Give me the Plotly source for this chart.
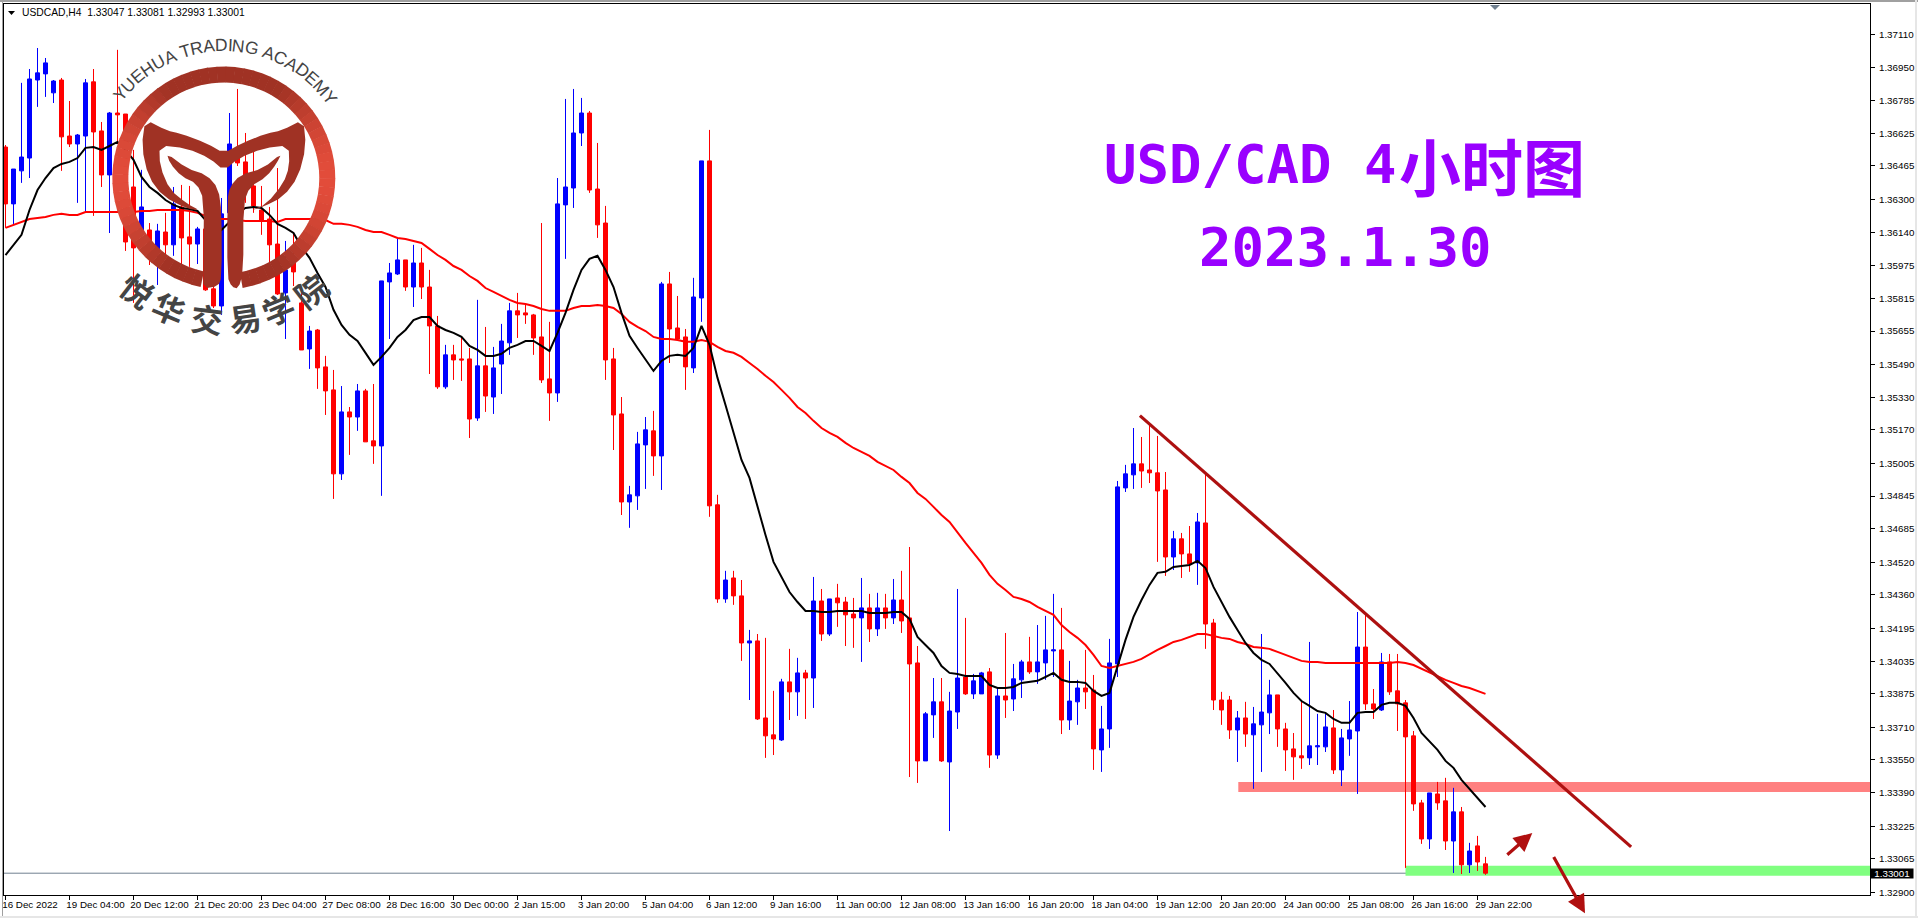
import math
import plotly.graph_objects as go

OPEN = [1.36565,1.36286,1.36448,1.36511,1.36894,1.36924,1.36831,1.36894,1.36619,1.36580,
1.36619,1.36885,1.36644,1.36428,1.36732,1.36727,1.36369,1.36158,1.36158,1.36065,
1.36148,1.36085,1.36271,1.36124,1.36089,1.36163,1.35869,1.35785,1.36242,1.36516,
1.36492,1.36374,1.36256,1.36212,1.36089,1.35849,1.36011,1.35800,1.35574,1.35667,
1.35486,1.35373,1.34961,1.35265,1.35240,1.35368,1.35123,1.35098,1.35903,1.35942,
1.36011,1.35878,1.35996,1.35878,1.35687,1.35388,1.35545,1.35525,1.35525,1.35235,
1.35491,1.35338,1.35500,1.35604,1.35761,1.35751,1.35741,1.35633,1.35427,1.35358,
1.36281,1.36364,1.36634,1.36732,1.36359,1.36192,1.35525,1.35255,1.34823,1.34853,
1.35103,1.35172,1.35049,1.35893,1.35677,1.35633,1.35481,1.35824,1.36497,1.34809,
1.34347,1.34450,1.34362,1.34131,1.34141,1.33763,1.33680,1.33655,1.33940,1.33891,
1.33984,1.33959,1.34337,1.34175,1.34352,1.34332,1.34273,1.34254,1.34303,1.34200,
1.34303,1.34254,1.34342,1.34254,1.34033,1.33552,1.33778,1.33842,1.33547,1.33792,
1.33964,1.33881,1.33881,1.33989,1.33581,1.33871,1.33856,1.33950,1.34038,1.33989,
1.34033,1.34092,1.34097,1.33753,1.33842,1.33910,1.33900,1.33606,1.33709,1.34028,
1.34892,1.34956,1.35010,1.34980,1.34966,1.34882,1.34553,1.34642,1.34568,1.34524,
1.34720,1.34229,1.33851,1.33851,1.33704,1.33763,1.33680,1.33729,1.33788,1.33876,
1.33709,1.33611,1.33577,1.33567,1.33621,1.33621,1.33714,1.33508,1.33660,1.33699,
1.34111,1.33832,1.33802,1.34038,1.33896,1.33837,1.33675,1.33346,1.33169,1.33390,
1.33356,1.33159,1.33302,1.33042,1.33135,1.33047]

HIGH = [1.36575,1.36457,1.36880,1.36948,1.37051,1.37002,1.36894,1.36904,1.36791,1.36629,
1.36899,1.36948,1.36688,1.36737,1.37042,1.36727,1.36551,1.36453,1.36192,1.36188,
1.36242,1.36369,1.36379,1.36374,1.36173,1.36242,1.35977,1.36315,1.36732,1.36850,
1.36634,1.36551,1.36374,1.36271,1.36462,1.36104,1.36143,1.35849,1.35687,1.35672,
1.35540,1.35471,1.35392,1.35289,1.35402,1.35378,1.35402,1.35908,1.35996,1.36119,
1.36011,1.36085,1.36070,1.35962,1.35736,1.35594,1.35594,1.35633,1.35579,1.35815,
1.35682,1.35584,1.35697,1.35800,1.35849,1.35790,1.35746,1.36192,1.35707,1.36413,
1.36801,1.36850,1.36806,1.36742,1.36585,1.36276,1.35579,1.35338,1.34902,1.35167,
1.35240,1.35270,1.35903,1.35952,1.35834,1.35672,1.35923,1.36497,1.36649,1.34858,
1.34485,1.34485,1.34440,1.34195,1.34175,1.34156,1.33896,1.33955,1.34102,1.34058,
1.33999,1.34455,1.34396,1.34347,1.34421,1.34357,1.34352,1.34450,1.34372,1.34377,
1.34372,1.34445,1.34485,1.34602,1.34116,1.33792,1.33959,1.33959,1.33891,1.34396,
1.34254,1.33979,1.33989,1.34008,1.33910,1.34180,1.34028,1.34048,1.34161,1.34219,
1.34264,1.34372,1.34303,1.34043,1.33950,1.34097,1.33974,1.33822,1.34151,1.34926,
1.35005,1.35186,1.35142,1.35201,1.35147,1.34970,1.34681,1.34671,1.34705,1.34769,
1.34961,1.34249,1.33891,1.33871,1.33797,1.33842,1.33817,1.34175,1.33950,1.33876,
1.33739,1.33689,1.33846,1.34136,1.33783,1.33792,1.33802,1.33709,1.33846,1.34283,
1.34269,1.33905,1.34082,1.34077,1.34077,1.33851,1.33699,1.33361,1.33395,1.33449,
1.33469,1.33420,1.33326,1.33150,1.33184,1.33081]

LOW = [1.36168,1.36183,1.36389,1.36413,1.36762,1.36811,1.36781,1.36448,1.36565,1.36291,
1.36246,1.36227,1.36369,1.36143,1.36585,1.36055,1.35800,1.36109,1.35986,1.35888,
1.36035,1.36031,1.35986,1.35977,1.35991,1.35859,1.35775,1.35741,1.36109,1.36472,
1.36291,1.36242,1.36134,1.35996,1.35839,1.35623,1.35883,1.35569,1.35476,1.35378,
1.35250,1.34838,1.34931,1.35054,1.35172,1.35118,1.35010,1.34853,1.35623,1.35937,
1.35859,1.35780,1.35819,1.35451,1.35378,1.35378,1.35422,1.35417,1.35137,1.35221,
1.35265,1.35255,1.35353,1.35545,1.35628,1.35697,1.35545,1.35407,1.35221,1.35314,
1.36016,1.36266,1.36570,1.36340,1.36119,1.35422,1.35078,1.34759,1.34696,1.34784,
1.34887,1.34951,1.34882,1.35505,1.35618,1.35373,1.35456,1.35707,1.34750,1.34328,
1.34328,1.34318,1.34043,1.33851,1.33753,1.33567,1.33581,1.33650,1.33753,1.33773,
1.33758,1.33812,1.34141,1.34165,1.34210,1.34116,1.34107,1.34038,1.34136,1.34165,
1.34200,1.34224,1.34180,1.33473,1.33444,1.33552,1.33665,1.33547,1.33208,1.33709,
1.33876,1.33856,1.33881,1.33518,1.33562,1.33763,1.33797,1.33861,1.33979,1.33930,
1.33950,1.33964,1.33684,1.33704,1.33729,1.33807,1.33508,1.33498,1.33616,1.33964,
1.34872,1.34887,1.34892,1.34916,1.34529,1.34460,1.34489,1.34450,1.34480,1.34416,
1.34102,1.33802,1.33729,1.33660,1.33547,1.33621,1.33415,1.33498,1.33684,1.33621,
1.33503,1.33459,1.33513,1.33532,1.33532,1.33596,1.33488,1.33429,1.33577,1.33390,
1.33802,1.33758,1.33797,1.33876,1.33699,1.33027,1.33307,1.33145,1.33120,1.33312,
1.33115,1.33002,1.32997,1.33002,1.33012,1.32993]

CLOSE = [1.36286,1.36457,1.36516,1.36899,1.36929,1.36978,1.36889,1.36615,1.36580,1.36624,
1.36880,1.36639,1.36428,1.36732,1.36723,1.36099,1.36070,1.36271,1.36026,1.36153,
1.36085,1.36286,1.36119,1.36089,1.36163,1.35864,1.35785,1.36237,1.36580,1.36487,
1.36369,1.36276,1.36207,1.36085,1.35844,1.35962,1.35952,1.35569,1.35662,1.35481,
1.35368,1.34961,1.35265,1.35240,1.35368,1.35118,1.35098,1.35908,1.35947,1.36011,
1.35878,1.35996,1.35878,1.35687,1.35388,1.35545,1.35520,1.35520,1.35230,1.35491,
1.35343,1.35481,1.35613,1.35761,1.35741,1.35741,1.35628,1.35422,1.35358,1.36286,
1.36369,1.36634,1.36732,1.36354,1.36183,1.35520,1.35250,1.34823,1.34858,1.35108,
1.35177,1.35049,1.35893,1.35672,1.35623,1.35486,1.35829,1.36497,1.34804,1.34347,
1.34440,1.34362,1.34131,1.34141,1.33758,1.33675,1.33660,1.33940,1.33891,1.33984,
1.33959,1.34337,1.34175,1.34347,1.34328,1.34269,1.34254,1.34303,1.34200,1.34303,
1.34254,1.34342,1.34239,1.34028,1.33552,1.33783,1.33842,1.33552,1.33797,1.33959,
1.33881,1.33945,1.33984,1.33581,1.33871,1.33851,1.33955,1.34038,1.33989,1.34038,
1.34097,1.34097,1.33753,1.33846,1.33910,1.33891,1.33611,1.33709,1.34033,1.34897,
1.34961,1.35010,1.34975,1.34966,1.34877,1.34553,1.34642,1.34568,1.34519,1.34725,
1.34224,1.33851,1.33802,1.33704,1.33763,1.33684,1.33734,1.33792,1.33876,1.33709,
1.33606,1.33572,1.33567,1.33626,1.33626,1.33719,1.33508,1.33665,1.33704,1.34111,
1.33832,1.33807,1.34038,1.33891,1.33832,1.33670,1.33341,1.33169,1.33395,1.33346,
1.33159,1.33302,1.33042,1.33110,1.33056,1.33001]

MA_FAST = [1.36035,1.36085,1.36134,1.36256,1.36354,1.36413,1.36462,1.36482,1.36492,1.36511,
1.36561,1.36565,1.36551,1.36570,1.36590,1.36551,1.36502,1.36418,1.36369,1.36340,
1.36305,1.36281,1.36266,1.36261,1.36251,1.36207,1.36134,1.36158,1.36197,1.36242,
1.36266,1.36271,1.36266,1.36232,1.36188,1.36168,1.36143,1.36075,1.36021,1.35947,
1.35878,1.35766,1.35692,1.35643,1.35613,1.35555,1.35496,1.35535,1.35579,1.35633,
1.35667,1.35716,1.35731,1.35731,1.35687,1.35667,1.35653,1.35633,1.35589,1.35569,
1.35540,1.35540,1.35550,1.35579,1.35594,1.35613,1.35613,1.35589,1.35564,1.35653,
1.35751,1.35864,1.35962,1.36016,1.36031,1.35962,1.35878,1.35751,1.35638,1.35579,
1.35520,1.35466,1.35515,1.35540,1.35545,1.35540,1.35579,1.35687,1.35594,1.35432,
1.35299,1.35162,1.35029,1.34941,1.34799,1.34661,1.34529,1.34455,1.34381,1.34332,
1.34288,1.34288,1.34283,1.34283,1.34288,1.34288,1.34288,1.34288,1.34278,1.34278,
1.34278,1.34283,1.34283,1.34249,1.34161,1.34121,1.34082,1.34018,1.33984,1.33979,
1.33969,1.33969,1.33969,1.33925,1.33910,1.33910,1.33915,1.33935,1.33940,1.33945,
1.33964,1.33984,1.33950,1.33940,1.33940,1.33935,1.33896,1.33871,1.33886,1.34013,
1.34146,1.34259,1.34342,1.34416,1.34475,1.34480,1.34504,1.34509,1.34514,1.34534,
1.34499,1.34406,1.34332,1.34259,1.34195,1.34131,1.34082,1.34048,1.34028,1.33984,
1.33935,1.33886,1.33846,1.33822,1.33797,1.33788,1.33758,1.33739,1.33739,1.33788,
1.33792,1.33792,1.33827,1.33837,1.33837,1.33822,1.33763,1.33689,1.33645,1.33606,
1.33552,1.33518,1.33459,1.33415,1.33370,1.33326]

MA_SLOW = [1.36168,1.36183,1.36197,1.36212,1.36217,1.36222,1.36232,1.36237,1.36232,1.36232,
1.36246,1.36246,1.36246,1.36246,1.36246,1.36246,1.36246,1.36251,1.36251,1.36256,
1.36256,1.36256,1.36256,1.36251,1.36242,1.36227,1.36217,1.36212,1.36212,1.36207,
1.36202,1.36202,1.36202,1.36202,1.36197,1.36212,1.36212,1.36212,1.36212,1.36212,
1.36207,1.36188,1.36188,1.36183,1.36173,1.36158,1.36148,1.36148,1.36134,1.36119,
1.36114,1.36104,1.36094,1.36065,1.36035,1.36011,1.35981,1.35962,1.35932,1.35908,
1.35873,1.35854,1.35834,1.35815,1.35800,1.35795,1.35785,1.35770,1.35761,1.35761,
1.35761,1.35775,1.35785,1.35785,1.35790,1.35785,1.35775,1.35746,1.35707,1.35682,
1.35662,1.35633,1.35623,1.35623,1.35618,1.35609,1.35609,1.35618,1.35609,1.35584,
1.35564,1.35555,1.35535,1.35505,1.35476,1.35442,1.35412,1.35373,1.35334,1.35289,
1.35260,1.35221,1.35186,1.35162,1.35142,1.35113,1.35088,1.35069,1.35049,1.35020,
1.35000,1.34980,1.34946,1.34916,1.34867,1.34838,1.34799,1.34759,1.34725,1.34671,
1.34622,1.34573,1.34524,1.34465,1.34421,1.34391,1.34357,1.34347,1.34332,1.34308,
1.34288,1.34269,1.34219,1.34185,1.34156,1.34121,1.34072,1.34018,1.34008,1.34018,
1.34028,1.34038,1.34053,1.34077,1.34097,1.34116,1.34136,1.34146,1.34161,1.34175,
1.34175,1.34165,1.34156,1.34151,1.34136,1.34126,1.34111,1.34107,1.34102,1.34087,
1.34072,1.34058,1.34043,1.34038,1.34038,1.34033,1.34033,1.34033,1.34033,1.34033,
1.34033,1.34033,1.34033,1.34033,1.34038,1.34033,1.34023,1.34004,1.33989,1.33969,
1.33950,1.33935,1.33920,1.33910,1.33896,1.33881]

Y_TICKS = ["1.37110","1.36950","1.36785","1.36625","1.36465","1.36300","1.36140","1.35975","1.35815",
           "1.35655","1.35490","1.35330","1.35170","1.35005","1.34845","1.34685","1.34520","1.34360",
           "1.34195","1.34035","1.33875","1.33710","1.33550","1.33390","1.33225","1.33065","1.32900"]
X_TICKS = ["16 Dec 2022","19 Dec 04:00","20 Dec 12:00","21 Dec 20:00","23 Dec 04:00","27 Dec 08:00",
           "28 Dec 16:00","30 Dec 00:00","2 Jan 15:00","3 Jan 20:00","5 Jan 04:00","6 Jan 12:00",
           "9 Jan 16:00","11 Jan 00:00","12 Jan 08:00","13 Jan 16:00","16 Jan 20:00","18 Jan 04:00",
           "19 Jan 12:00","20 Jan 20:00","24 Jan 00:00","25 Jan 08:00","26 Jan 16:00","29 Jan 22:00"]
TICK_STEP = 8
HEADER = "USDCAD,H4\u00a0\u00a01.33047 1.33081 1.32993 1.33001"
LAST = 1.33001
TITLE_1 = "USD/CAD 4"
TITLE_1B = "小时图"
TITLE_2 = "2023.1.30"
LOGO_EN = "YUEHUA TRADING ACADEMY"
LOGO_CN = "悦华交易学院"

W, H = 1918, 918
L, R, T, B = 4, 48, 4, 23
PW, PH = W - L - R, H - T - B
XRANGE = [-0.1875, 233.0625]
YRANGE = [1.32894, 1.37267]
FONT = "Liberation Sans"
def px(x): return (x - L) / PW
def py(y): return 1 - (y - T) / PH

bars = list(range(len(OPEN)))
fig = go.Figure()
fig.add_trace(go.Candlestick(
    x=bars, open=OPEN, high=HIGH, low=LOW, close=CLOSE, whiskerwidth=0, showlegend=False,
    increasing=dict(line=dict(color="#0000ff", width=1), fillcolor="#0000ff"),
    decreasing=dict(line=dict(color="#ff0000", width=1), fillcolor="#ff0000")))
fig.add_trace(go.Scatter(x=bars, y=MA_SLOW, mode="lines", line=dict(color="#ff0000", width=2), showlegend=False))
fig.add_trace(go.Scatter(x=bars, y=MA_FAST, mode="lines", line=dict(color="#000000", width=2), showlegend=False, xaxis="x2"))

shapes = []
shapes.append(dict(type="rect", xref="x", yref="y", x0=154.1, x1=XRANGE[1], y0=1.33400, y1=1.33449,
                   fillcolor="#ff8080", line_width=0, layer="below"))
shapes.append(dict(type="rect", xref="x", yref="y", x0=175, x1=XRANGE[1], y0=1.32989, y1=1.33037,
                   fillcolor="#80ff80", line_width=0, layer="below"))
shapes.append(dict(type="line", xref="paper", yref="y", x0=0, x1=1, y0=LAST, y1=LAST,
                   line=dict(color="#708090", width=1), layer="below"))
shapes.append(dict(type="line", xref="x", yref="y", x0=141.8, y0=1.35247, x1=203.2, y1=1.33130,
                   line=dict(color="#ad1010", width=3.2), layer="above"))

def prect(x0, y0, x1, y1, color):
    shapes.append(dict(type="rect", xref="paper", yref="paper", x0=px(x0), x1=px(x1), y0=py(y0), y1=py(y1),
                       fillcolor=color, line_width=0, layer="above"))
prect(0, 0, W, 2, "#a0a0a0")
prect(2, 0, 3, 917, "#a0a0a0")
prect(0, 916, W, 918, "#e6e6e6")
prect(1915, 0, 1917, 918, "#e6e6e6")

def poly(points, color, closed=True):
    d = "M " + " L ".join(f"{px(x):.6f},{py(y):.6f}" for x, y in points) + (" Z" if closed else "")
    shapes.append(dict(type="path", xref="paper", yref="paper", path=d, fillcolor=color, line_width=0, layer="above"))
poly([(1490, 5), (1500, 5), (1495, 10)], "#708090")
poly([(8, 11), (15, 11), (11.5, 15)], "#000000")

def chaikin(points, n=2):
    for _ in range(n):
        out = []
        m = len(points)
        for i in range(m):
            a, b = points[i], points[(i + 1) % m]
            out.append((a[0] * .75 + b[0] * .25, a[1] * .75 + b[1] * .25))
            out.append((a[0] * .25 + b[0] * .75, a[1] * .25 + b[1] * .75))
        points = out
    return points
CX, CY, RO, RI = 223.8, 178, 111.5, 95.5
def lerp_col(t):
    a, b = (160, 50, 36), (226, 76, 58)
    return "rgb(%d,%d,%d)" % tuple(round(a[i] + (b[i] - a[i]) * t) for i in range(3))
N = 72
start, end = math.radians(12), math.radians(350)
for i in range(N):
    a0 = start + (end - start) * i / N
    a1 = start + (end - start) * (i + 1.06) / N
    am = (a0 + a1) / 2
    t = max(0, (abs(math.sin(am)) - 0.5) / 0.5) ** 1.3
    pts = [(CX - RO * math.sin(a0), CY + RO * math.cos(a0)), (CX - RO * math.sin(a1), CY + RO * math.cos(a1)),
           (CX - RI * math.sin(a1), CY + RI * math.cos(a1)), (CX - RI * math.sin(a0), CY + RI * math.cos(a0))]
    poly(pts, lerp_col(t))
Z = lambda pts: [(x / 3, y / 3) for x, y in pts]
BROWN = "#a03224"
band = Z([(436,358),(500,392),(540,400),(620,430),(672,460),(725,430),(800,400),(845,392),(910,358),(918,440),(895,530),(850,590),(790,620),(750,632),
          (800,612),(850,550),(868,500),(866,436),(790,445),(715,475),(672,512),(630,475),(560,445),(478,436),(480,500),(510,570),
          (560,610),(600,632),(560,625),(490,590),(445,530),(425,440)])
poly(chaikin(band, 1), BROWN)
poly(chaikin(Z([(500,460),(560,505),(620,525),(655,565),(665,640),(665,830),(655,858),(610,866),(610,810),(612,600),(590,550),(545,530),(510,490)]), 1), BROWN)
poly(chaikin(Z([(845,460),(790,505),(720,525),(690,560),(682,600),(682,830),(695,860),(715,866),(730,815),(730,610),(750,560),(800,530),(830,490)]), 1), BROWN)

annotations = []
def note(text, x, y, size, color="#000000", family=FONT, angle=0, xanchor="center", yanchor="middle", **kw):
    annotations.append(dict(text=text, x=px(x), y=py(y), xref="paper", yref="paper", showarrow=False, textangle=angle,
                            xanchor=xanchor, yanchor=yanchor, font=dict(size=size, color=color, family=family), **kw))

note(HEADER, 20, 12.5, 10.3, xanchor="left")
annotations.append(dict(text=f"{LAST:.5f}", x=px(1892), y=LAST, xref="paper", yref="y", showarrow=False,
                        xanchor="center", yanchor="middle", bgcolor="#000000", width=42, height=9, borderpad=0,
                        font=dict(size=9.8, color="#ffffff", family=FONT)))
MONO = "DejaVu Sans Mono"
note(f"<b>{TITLE_1}</b>", 1102, 164.5, 54, "#9900ff", MONO, xanchor="left")
note(f"<b>{TITLE_1B}</b>", 1397, 164.5, 62, "#9900ff", "Noto Sans CJK SC", xanchor="left")
note(f"<b>{TITLE_2}</b>", 1345, 248, 54, "#9900ff", MONO)
WID = {"Y":.667,"U":.722,"E":.667,"H":.722,"A":.667," ":.278,"T":.611,"R":.722,"D":.722,"I":.278,"N":.722,"G":.778,"C":.722,"M":.833}
total = sum(WID[c] for c in LOGO_EN)
pos = 0
span = 109.0
for c in LOGO_EN:
    ang = 1.0 - span / 2 + span * (pos + WID[c] / 2) / total
    pos += WID[c]
    if c != " ":
        a = math.radians(ang)
        note(c, CX + 133 * math.sin(a), CY - 133 * math.cos(a), 17.5, "#444444", angle=ang)
for c, ang in zip(LOGO_CN, [37.5, 22.7, 7, -8.5, -22.5, -37.7]):
    a = math.radians(ang)
    note(f"<b>{c}</b>", CX - 141 * math.sin(a), CY + 141 * math.cos(a), 32, "#444444", "Noto Sans CJK SC", angle=ang)
def arrow(x0, y0, x1, y1):
    annotations.append(dict(text=" ", x=px(x1), y=py(y1), xref="paper", yref="paper", axref="pixel", ayref="pixel",
                            ax=x0 - x1, ay=y0 - y1, showarrow=True, arrowhead=2, arrowsize=1.15, arrowwidth=3.2,
                            arrowcolor="#b00f0f", standoff=0))
arrow(1504.3, 857.3, 1532.3, 833)
arrow(1550.7, 851.7, 1585, 913.3)

tick_bars = [i * TICK_STEP for i in range(len(X_TICKS))]
LABEL_WIDTH = {11: 47.0, 12: 55.0}
x_label_pos = [k + (LABEL_WIDTH.get(len(t), 50) / 2 - 1.5) / 8 for k, t in zip(tick_bars, X_TICKS)]
x_label_pos[0] = tick_bars[0] + (52 / 2 - 1.5) / 8

fig.update_layout(
    width=W, height=H, margin=dict(l=L, r=R, t=T, b=B, pad=0, autoexpand=False),
    paper_bgcolor="#ffffff", plot_bgcolor="#ffffff", showlegend=False, boxgap=0.5, boxgroupgap=0,
    font=dict(family=FONT, color="#000000", size=9.8),
    shapes=shapes, annotations=annotations,
    xaxis=dict(range=XRANGE, rangeslider=dict(visible=False), showgrid=False, zeroline=False,
               tickmode="array", tickvals=tick_bars, showticklabels=False, ticks="outside", ticklen=4, tickcolor="#000000",
               tickwidth=1, showline=True, linecolor="#000000", linewidth=1, mirror=True, anchor="y"),
    xaxis2=dict(range=XRANGE, overlaying="x", side="bottom", anchor="y", showgrid=False, zeroline=False,
                tickmode="array", tickvals=x_label_pos, ticktext=X_TICKS, ticks="", showline=False,
                tickfont=dict(size=9.8, family=FONT, color="#000000"), ticklabelstandoff=2),
    yaxis=dict(range=YRANGE, side="right", showgrid=False, zeroline=False, tickmode="array",
               tickvals=[float(t) + 0.00007 for t in Y_TICKS], ticktext=Y_TICKS, ticks="outside", ticklen=4,
               tickcolor="#000000", tickwidth=1, showline=True, linecolor="#000000", linewidth=1, mirror=True,
               tickfont=dict(size=9.8, family=FONT, color="#000000"), ticklabelstandoff=2),
)
fig.write_html("out.html", config=dict(displayModeBar=False),
               post_script="document.body.style.margin='0';document.body.style.overflow='hidden';")
